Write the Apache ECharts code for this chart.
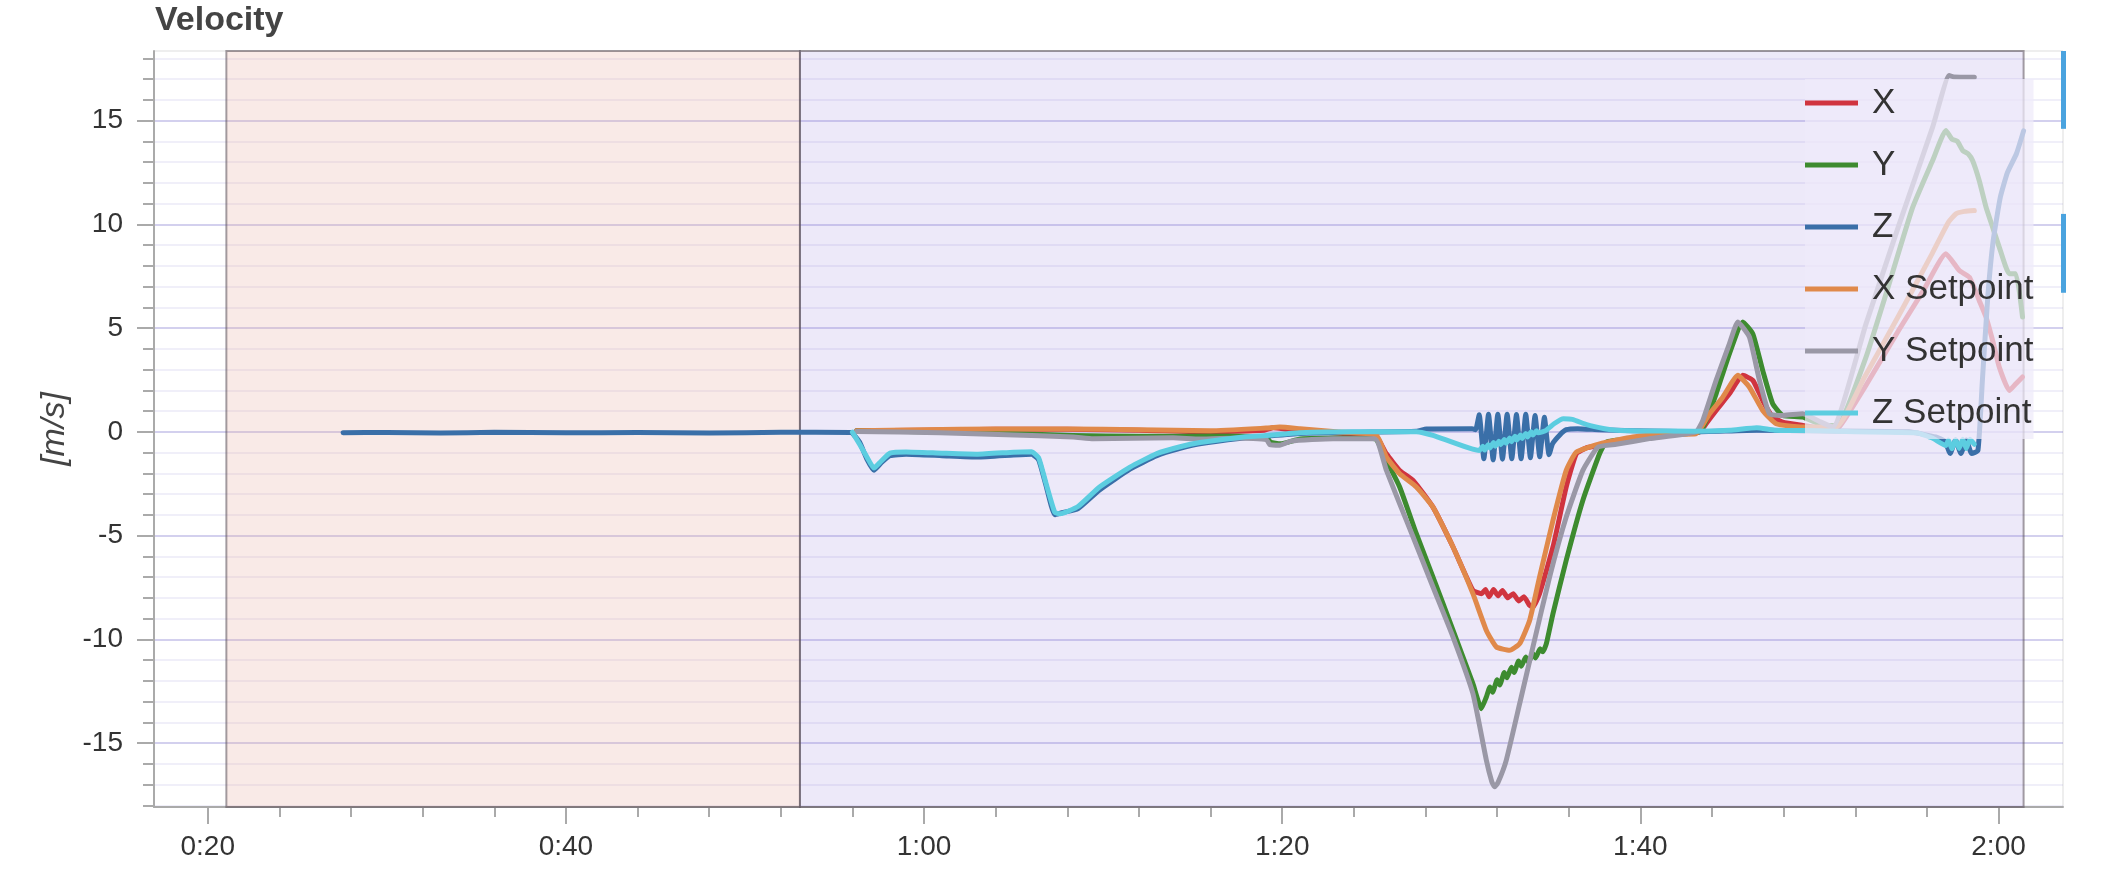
<!DOCTYPE html>
<html><head><meta charset="utf-8">
<script src="https://cdn.jsdelivr.net/npm/echarts@6/dist/echarts.min.js"></script>
<style>html,body{margin:0;padding:0;background:#fff}#c{width:2106px;height:896px}</style>
</head><body><div id="c"></div><script>
// ---- data (time in seconds, velocity in m/s) ----
const seriesNames = ['X', 'Y', 'Z', 'X Setpoint', 'Y Setpoint', 'Z Setpoint'];
const xTickValues = [20, 40, 60, 80, 100, 120];
const yTickValues = [-15, -10, -5, 0, 5, 10, 15];
const phaseBounds = [21.04, 53.07, 121.4];
const indicatorSpans = [[18.35, 14.6], [10.5, 6.7]];

const xVel = [[56.24,0.05],[60,0.08],[64,0.12],[68,0.12],[72,0.08],[76,0.0],[79.0,0.08],[79.5,0.2],[80.3,0.12],[82,0.0],[84,-0.12],[85.26,-0.25],[85.82,-1.06],[86.56,-1.86],[87.31,-2.34],[88.42,-3.63],[89.54,-5.55],[90.65,-7.64],[91.12,-7.8],[91.35,-7.6],[91.55,-7.95],[91.8,-7.6],[92.05,-7.9],[92.3,-7.65],[92.6,-8.0],[92.9,-7.8],[93.2,-8.15],[93.5,-7.95],[93.8,-8.35],[94.0,-8.45],[94.37,-7.8],[95.12,-5.55],[95.86,-2.66],[96.42,-1.06],[96.98,-0.77],[97.72,-0.66],[98.65,-0.45],[100.5,-0.2],[103.3,0.0],[103.67,0.39],[104.23,1.03],[104.97,1.83],[105.72,2.72],[106.28,2.48],[106.83,1.51],[107.39,0.71],[107.95,0.47],[109.07,0.31],[110.3,0.15],[111.1,0.23],[112.5,2.1],[114.46,4.94],[115.8,6.8],[117.06,8.58],[117.81,7.77],[118.37,7.45],[118.92,6.33],[119.3,5.53],[119.67,4.4],[120.04,3.12],[120.6,1.99],[120.97,2.32],[121.34,2.64]];

const yVel = [[56.24,0.05],[60,0.0],[64,-0.06],[68.3,-0.18],[72,-0.22],[76,-0.2],[79.1,-0.25],[79.35,-0.5],[79.9,-0.58],[81,-0.35],[83,-0.3],[85.17,-0.33],[85.82,-1.38],[86.56,-2.66],[87.49,-4.91],[88.42,-7.0],[89.54,-9.57],[90.65,-12.14],[91.12,-13.34],[91.4,-12.78],[91.6,-12.3],[91.75,-12.55],[92.0,-11.95],[92.15,-12.2],[92.4,-11.6],[92.55,-11.85],[92.8,-11.35],[92.95,-11.6],[93.2,-11.05],[93.35,-11.3],[93.6,-10.85],[93.75,-11.1],[94.0,-10.7],[94.15,-10.9],[94.4,-10.45],[94.55,-10.6],[94.75,-10.21],[95.12,-8.76],[95.86,-6.19],[96.79,-3.3],[97.72,-1.06],[98.09,-0.5],[99.58,-0.33],[101.5,-0.15],[103.3,0.0],[103.67,0.55],[104.23,1.83],[104.97,3.76],[105.72,5.29],[106.28,4.72],[106.83,2.96],[107.39,1.35],[107.95,0.79],[109.07,0.71],[110.3,0.3],[111.1,0.35],[112.6,3.6],[113.72,6.65],[115.2,10.8],[116.32,13.07],[117.06,14.52],[117.4,14.1],[117.7,14.0],[118.0,13.55],[118.3,13.4],[118.55,13.07],[118.92,12.11],[119.3,10.83],[119.67,9.86],[120.04,8.9],[120.6,7.62],[120.97,7.62],[121.34,5.53]];

const zVel = [[27.56,-0.05],[30,-0.03],[33,-0.06],[36,-0.02],[40,-0.05],[44,-0.03],[48,-0.06],[52,-0.02],[55.9,-0.03],[56.4,-0.5],[56.8,-1.3],[57.2,-1.85],[57.6,-1.5],[58.1,-1.15],[59,-1.08],[61,-1.15],[63,-1.22],[65,-1.12],[66.0,-1.08],[66.4,-1.35],[66.8,-2.55],[67.3,-4.0],[67.7,-3.9],[68.6,-3.7],[69.8,-2.8],[71.5,-1.8],[73,-1.15],[74.3,-0.8],[75.4,-0.58],[77.6,-0.32],[79,-0.22],[81,-0.08],[84,-0.02],[87.5,0.03],[88.05,0.14],[90.6,0.15],[90.8,0.1],[91.0,0.82],[91.26,-1.3],[91.52,0.85],[91.78,-1.35],[92.04,0.85],[92.3,-1.32],[92.56,0.85],[92.82,-1.3],[93.08,0.83],[93.34,-1.3],[93.6,0.85],[93.86,-1.25],[94.12,0.78],[94.38,-1.2],[94.64,0.7],[94.9,-1.1],[95.1,-0.57],[95.5,-0.15],[95.86,0.1],[96.5,0.15],[97.7,0.1],[99.6,0.05],[103,0.0],[106.5,0.08],[110,0.05],[115,0.0],[116.5,-0.25],[117.0,-0.45],[117.3,-1.05],[117.6,-0.4],[117.9,-1.05],[118.2,-0.4],[118.5,-1.05],[118.85,-0.9],[119.1,2.5],[119.4,6.5],[119.7,9.2],[120.1,11.3],[120.5,12.5],[121.0,13.4],[121.4,14.5]];

const xSp = [[56.24,0.05],[60,0.1],[64,0.14],[68,0.14],[72,0.1],[76,0.05],[79.1,0.18],[79.86,0.23],[81,0.15],[83,0.0],[85.26,-0.17],[85.82,-1.22],[86.56,-2.02],[87.49,-2.66],[88.42,-3.63],[89.54,-5.55],[90.65,-7.8],[91.4,-9.57],[91.96,-10.37],[92.7,-10.53],[93.26,-10.21],[93.82,-9.08],[94.37,-7.0],[95.12,-4.27],[95.86,-1.86],[96.42,-0.98],[97.72,-0.58],[99.58,-0.25],[101.5,-0.12],[103.11,-0.09],[103.86,0.87],[104.6,1.67],[105.44,2.72],[106.09,2.15],[106.83,1.03],[107.58,0.39],[109.07,0.23],[110.93,0.23],[112.5,2.6],[114.46,5.65],[116.3,8.6],[117.2,10.1],[117.62,10.5],[118.1,10.62],[118.65,10.66]];

const ySp = [[56.24,0.02],[60.89,-0.04],[64.61,-0.14],[68.33,-0.25],[69.45,-0.33],[73.91,-0.29],[75.4,-0.35],[77.63,-0.3],[79.12,-0.38],[79.31,-0.62],[79.86,-0.65],[80.5,-0.45],[82.84,-0.33],[85.17,-0.33],[85.82,-1.86],[86.56,-3.47],[87.31,-5.07],[88.42,-7.48],[89.54,-9.89],[90.65,-12.62],[91.4,-15.83],[91.7,-16.85],[91.86,-17.11],[92.05,-16.9],[92.51,-15.83],[93.26,-13.1],[94.0,-10.37],[94.93,-7.0],[95.86,-4.11],[96.79,-1.86],[97.63,-0.74],[98.65,-0.6],[100.51,-0.33],[103.11,0.0],[103.49,0.55],[104.23,2.48],[104.97,4.24],[105.44,5.29],[106.09,4.56],[106.65,2.48],[107.21,0.87],[107.95,0.79],[109.07,0.87],[110.0,0.5],[110.74,0.23],[112.6,5.2],[114.46,10.02],[116.32,14.68],[117.25,17.17],[117.5,17.1],[118.65,17.09]];

const zSp = [[56.0,-0.02],[56.4,-0.6],[56.8,-1.2],[57.2,-1.75],[57.6,-1.42],[58.1,-1.03],[59,-0.97],[61,-1.03],[63,-1.08],[65,-0.98],[66.0,-0.96],[66.4,-1.25],[66.8,-2.45],[67.3,-3.88],[67.6,-3.95],[68.6,-3.6],[69.8,-2.66],[71.5,-1.7],[73,-1.05],[74.3,-0.72],[75.4,-0.52],[77.6,-0.27],[79.1,-0.18],[81,-0.05],[84,0.0],[87.49,0.0],[88.42,-0.17],[91.0,-0.9],[91.2,-0.7],[91.3,-0.88],[91.5,-0.62],[91.6,-0.78],[91.8,-0.52],[91.9,-0.7],[92.1,-0.45],[92.2,-0.62],[92.4,-0.37],[92.5,-0.55],[92.7,-0.3],[92.8,-0.48],[93.0,-0.22],[93.1,-0.4],[93.3,-0.15],[93.4,-0.32],[93.6,-0.08],[93.7,-0.25],[93.9,0.0],[94.0,-0.15],[94.2,0.05],[94.3,-0.05],[94.74,0.07],[95.2,0.4],[95.7,0.63],[96.2,0.6],[97,0.35],[98,0.15],[98.65,0.07],[100,0.04],[103,0.03],[105,0.08],[106.5,0.2],[107.5,0.08],[110,0.05],[112,0.0],[115.4,-0.05],[116.3,-0.3],[117.06,-0.66],[117.2,-0.4],[117.4,-0.82],[117.6,-0.38],[117.8,-0.8],[118.0,-0.36],[118.2,-0.8],[118.4,-0.36],[118.65,-0.6]];

const seriesData = [xVel, yVel, zVel, xSp, ySp, zSp];
const seriesColors = ['#d0343f', '#3d8b2f', '#3a6fa8', '#e0894a', '#9a98a6', '#5ccde0'];

// ---- chart ----
const FONT = '"Liberation Sans", Arial, Helvetica, sans-serif';
const chart = echarts.init(document.getElementById('c'), null, {renderer: 'canvas'});
const fmtTime = v => Math.floor(v / 60) + ':' + String(Math.round(v % 60)).padStart(2, '0');

const lineSeries = seriesNames.map((n, i) => ({
  name: n, type: 'line', data: seriesData[i], showSymbol: false, symbol: 'none', smooth: 0.15,
  color: seriesColors[i], lineStyle: {width: 5, color: seriesColors[i], cap: 'round', join: 'round'}, z: 3 + i * 0.01, clip: true
}));

const bgSeries = {
  name: '_bg', type: 'line', data: [], silent: true, z: 1,
  markArea: {
    silent: true,
    data: [
      [{xAxis: phaseBounds[0], itemStyle: {color: 'rgba(230,170,160,0.25)', borderColor: 'rgba(90,80,90,0.55)', borderWidth: 2}}, {xAxis: phaseBounds[1]}],
      [{xAxis: phaseBounds[1], itemStyle: {color: 'rgba(150,125,220,0.17)', borderColor: 'rgba(90,80,90,0.55)', borderWidth: 2}}, {xAxis: phaseBounds[2]}]
    ]
  },
  markLine: {
    silent: true, symbol: ['none', 'none'], label: {show: false},
    lineStyle: {color: '#4aa3df', width: 5, type: 'solid'},
    data: indicatorSpans.map(s => [{coord: [123.6, s[0]]}, {coord: [123.6, s[1]]}])
  }
};

chart.setOption({
  animation: false,
  backgroundColor: '#fff',
  title: {text: 'Velocity', left: 155, top: 4, padding: 0,
    textStyle: {fontSize: 34, fontWeight: 'bold', color: '#444', fontFamily: FONT}},
  legend: {
    data: seriesNames, orient: 'vertical', left: 1805, top: 79, padding: [4, 0, 6, 0],
    itemWidth: 53, itemHeight: 5, itemGap: 22, icon: 'rect',
    backgroundColor: 'rgba(238,234,249,0.72)', selectedMode: false,
    textStyle: {fontSize: 35, color: '#333', fontFamily: FONT, lineHeight: 40, padding: [0, 0, 0, 9]}
  },
  grid: {left: 154, right: 43, top: 51, bottom: 89, show: true, borderColor: '#ddd', borderWidth: 1, backgroundColor: 'transparent'},
  xAxis: {
    type: 'value', min: 17, max: 123.6, minInterval: 20, maxInterval: 20,
    axisLine: {show: true, onZero: false, lineStyle: {color: '#aaa', width: 2}},
    axisTick: {show: true, length: 17, lineStyle: {color: '#aaa', width: 2}, customValues: xTickValues},
    minorTick: {show: true, splitNumber: 5, length: 10, lineStyle: {color: '#aaa', width: 2}},
    axisLabel: {customValues: xTickValues, formatter: fmtTime, fontSize: 28, color: '#333', fontFamily: FONT, margin: 26},
    splitLine: {show: false}
  },
  yAxis: {
    type: 'value', min: -18.08, max: 18.35, minInterval: 5, maxInterval: 5,
    name: '[m/s]', nameLocation: 'middle', nameGap: 78, nameRotate: 90,
    nameTextStyle: {fontSize: 34, fontStyle: 'italic', color: '#444', fontFamily: FONT},
    axisLine: {show: true, lineStyle: {color: '#aaa', width: 2}},
    axisTick: {show: true, length: 17, lineStyle: {color: '#aaa', width: 2}, customValues: yTickValues},
    minorTick: {show: true, splitNumber: 5, length: 11, lineStyle: {color: '#aaa', width: 2}},
    axisLabel: {customValues: yTickValues, fontSize: 28, color: '#333', fontFamily: FONT, margin: 31},
    splitLine: {show: true, lineStyle: {color: 'rgba(110,100,200,0.30)', width: 2}},
    minorSplitLine: {show: true, lineStyle: {color: 'rgba(110,100,200,0.10)', width: 2}}
  },
  series: [bgSeries].concat(lineSeries)
});
</script></body></html>
